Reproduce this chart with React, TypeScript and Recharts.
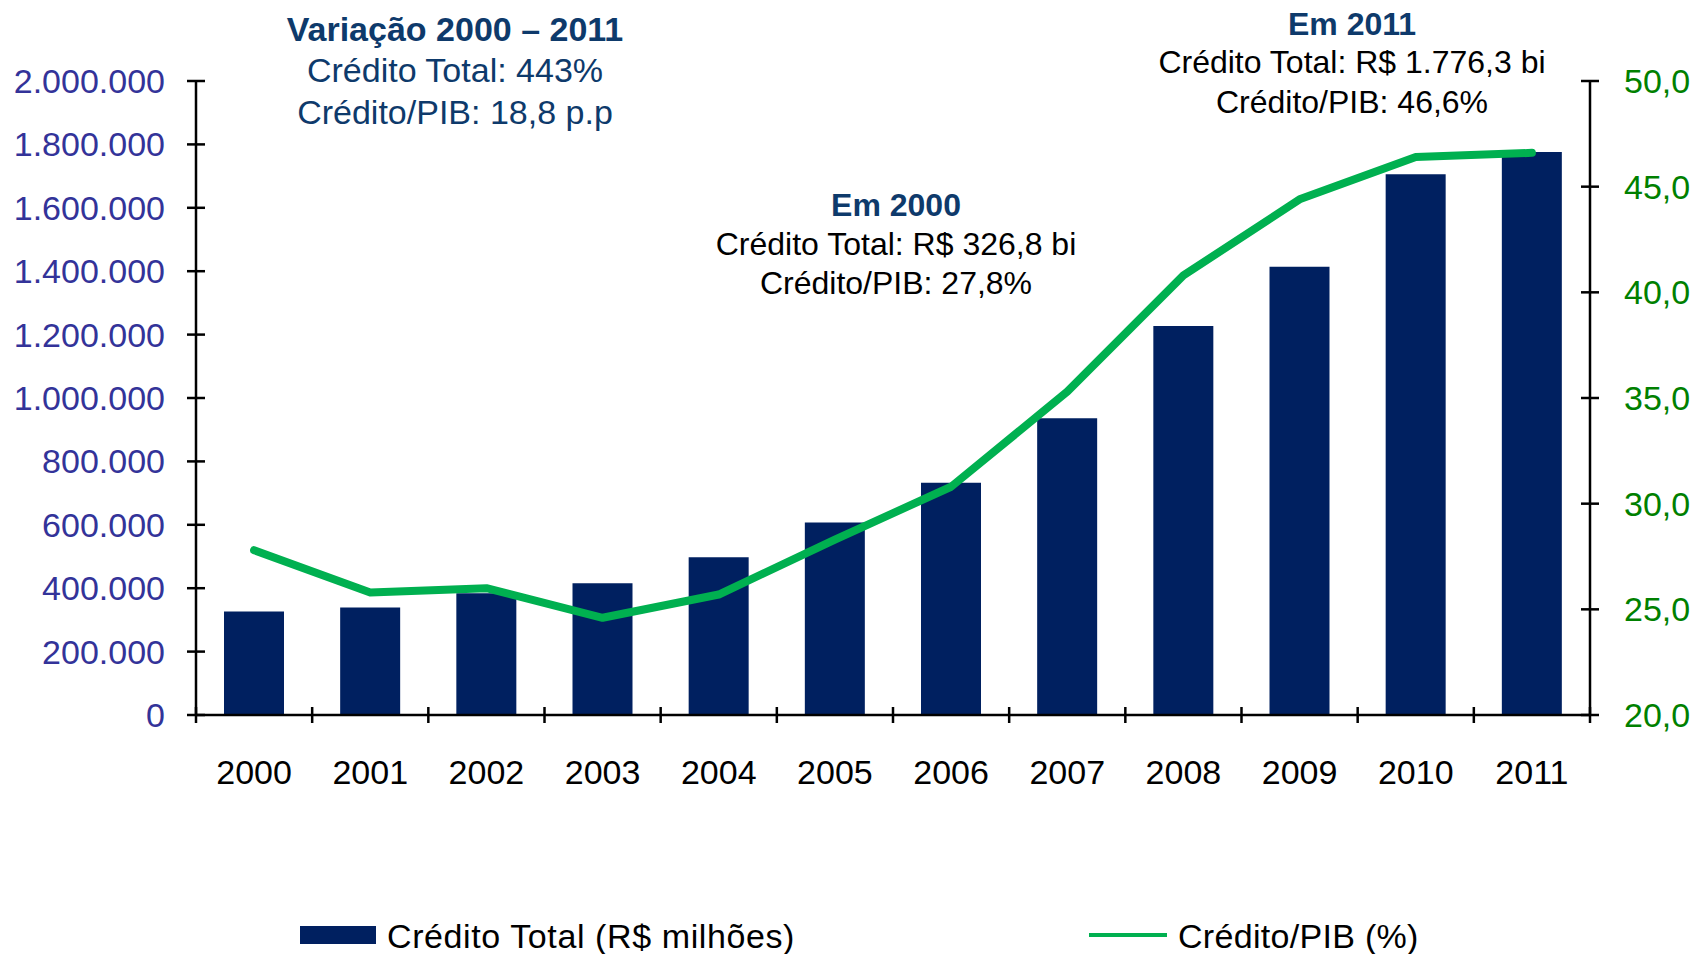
import { Bar, ComposedChart, Legend, Line, XAxis, YAxis } from 'recharts';

const years = ['2000', '2001', '2002', '2003', '2004', '2005', '2006', '2007', '2008', '2009', '2010', '2011'];
const creditoTotal = [326800, 339000, 384000, 416000, 498000, 607000, 733000, 936000, 1227000, 1414000, 1706000, 1776300];
const creditoPib = [27.8, 25.8, 26.0, 24.6, 25.7, 28.3, 30.8, 35.3, 40.8, 44.4, 46.4, 46.6];
const leftTicks = [0, 200000, 400000, 600000, 800000, 1000000, 1200000, 1400000, 1600000, 1800000, 2000000];
const rightTicks = [20, 25, 30, 35, 40, 45, 50];

const W = 1694;
const H = 954;
const PLOT_LEFT = 196;
const PLOT_RIGHT = 1590;
const BAND = (PLOT_RIGHT - PLOT_LEFT) / years.length;
const FONT = "'Liberation Sans', Arial, sans-serif";
const NAVY = '#0E3A6B';

const data = years.map((y, i) => ({ year: y, total: creditoTotal[i], pib: creditoPib[i] }));

const fmtMil = (v: number) => String(v).replace(/\B(?=(\d{3})+(?!\d))/g, '.');
const fmtPct = (v: number) => v.toFixed(1).replace('.', ',');

function XTick(props: any) {
  const { x, y, payload, index } = props;
  return (
    <g>
      <text x={x} y={y + 69} textAnchor="middle" fill="#000" fontSize={34} fontFamily={FONT}>
        {payload.value}
      </text>
      <line x1={x + BAND / 2} x2={x + BAND / 2} y1={y - 8} y2={y + 8} stroke="#000" strokeWidth={2.5} />
      {index === 0 ? (
        <line x1={x - BAND / 2} x2={x - BAND / 2} y1={y - 8} y2={y + 8} stroke="#000" strokeWidth={2.5} />
      ) : null}
    </g>
  );
}

function LeftTick(props: any) {
  const { x, y, payload } = props;
  return (
    <g>
      <line x1={x - 9} x2={x + 9} y1={y} y2={y} stroke="#000" strokeWidth={2.5} />
      <text x={x - 31} y={y + 12} textAnchor="end" fill="#333399" fontSize={34} fontFamily={FONT}>
        {fmtMil(payload.value)}
      </text>
    </g>
  );
}

function RightTick(props: any) {
  const { x, y, payload } = props;
  return (
    <g>
      <line x1={x - 9} x2={x + 9} y1={y} y2={y} stroke="#000" strokeWidth={2.5} />
      <text x={x + 34} y={y + 12} textAnchor="start" fill="#008000" fontSize={34} fontFamily={FONT}>
        {fmtPct(payload.value)}
      </text>
    </g>
  );
}

function LegendBox() {
  return (
    <svg width={W} height={54} style={{ display: 'block' }}>
      <rect x={300} y={26} width={76} height={18} fill="#002060" />
      <text x={387} y={48} fontSize={34} fontFamily={FONT} fill="#000" letterSpacing={0.6}>
        Crédito Total (R$ milhões)
      </text>
      <line x1={1089} x2={1167} y1={35} y2={35} stroke="#00B050" strokeWidth={4} />
      <text x={1178} y={48} fontSize={34} fontFamily={FONT} fill="#000" letterSpacing={0.3}>
        Crédito/PIB (%)
      </text>
    </svg>
  );
}

const notes = [
  { cx: 455, size: 34, lines: [
    { t: 'Variação 2000 – 2011', y: 29, bold: true, color: NAVY },
    { t: 'Crédito Total: 443%', y: 70, bold: false, color: NAVY },
    { t: 'Crédito/PIB: 18,8 p.p', y: 112, bold: false, color: NAVY },
  ] },
  { cx: 1352, size: 32, lines: [
    { t: 'Em 2011', y: 24, bold: true, color: NAVY },
    { t: 'Crédito Total: R$ 1.776,3 bi', y: 62, bold: false, color: '#000' },
    { t: 'Crédito/PIB: 46,6%', y: 102, bold: false, color: '#000' },
  ] },
  { cx: 896, size: 32, lines: [
    { t: 'Em 2000', y: 205, bold: true, color: NAVY },
    { t: 'Crédito Total: R$ 326,8 bi', y: 244, bold: false, color: '#000' },
    { t: 'Crédito/PIB: 27,8%', y: 283, bold: false, color: '#000' },
  ] },
];

export default function App() {
  return (
    <div style={{ position: 'absolute', left: 0, top: 0, width: W, height: H, background: '#fff', fontFamily: FONT }}>
      <ComposedChart
        width={W}
        height={H}
        data={data}
        margin={{ top: 81, right: 0, bottom: 179, left: 0 }}
      >
        <XAxis
          dataKey="year"
          height={60}
          tickLine={false}
          tickSize={0}
          tickMargin={0}
          axisLine={{ stroke: '#000', strokeWidth: 2.5 }}
          tick={<XTick />}
          interval={0}
        />
        <YAxis
          yAxisId="left"
          width={196}
          domain={[0, 2000000]}
          ticks={leftTicks}
          interval={0}
          tickLine={false}
          tickSize={0}
          tickMargin={0}
          axisLine={{ stroke: '#000', strokeWidth: 2.5 }}
          tick={<LeftTick />}
        />
        <YAxis
          yAxisId="right"
          orientation="right"
          width={104}
          domain={[20, 50]}
          ticks={rightTicks}
          interval={0}
          tickLine={false}
          tickSize={0}
          tickMargin={0}
          axisLine={{ stroke: '#000', strokeWidth: 2.5 }}
          tick={<RightTick />}
        />
        <Legend
          layout="vertical"
          align="center"
          verticalAlign="middle"
          wrapperStyle={{ left: 0, top: 900, width: W }}
          content={() => <LegendBox />}
        />
        <Bar
          yAxisId="left"
          dataKey="total"
          name="Crédito Total (R$ milhões)"
          fill="#002060"
          barSize={60}
          isAnimationActive={false}
        />
        <Line
          yAxisId="right"
          dataKey="pib"
          name="Crédito/PIB (%)"
          stroke="#00B050"
          strokeWidth={8}
          strokeLinecap="round"
          strokeLinejoin="round"
          dot={false}
          activeDot={false}
          isAnimationActive={false}
        />
      </ComposedChart>
      {notes.map((n, i) =>
        n.lines.map((l, j) => (
          <div
            key={`${i}-${j}`}
            style={{
              position: 'absolute',
              left: n.cx - 350,
              width: 700,
              top: l.y - 20,
              lineHeight: '40px',
              textAlign: 'center',
              fontSize: n.size,
              fontWeight: l.bold ? 'bold' : 'normal',
              color: l.color,
              whiteSpace: 'nowrap',
            }}
          >
            {l.t}
          </div>
        ))
      )}
    </div>
  );
}
